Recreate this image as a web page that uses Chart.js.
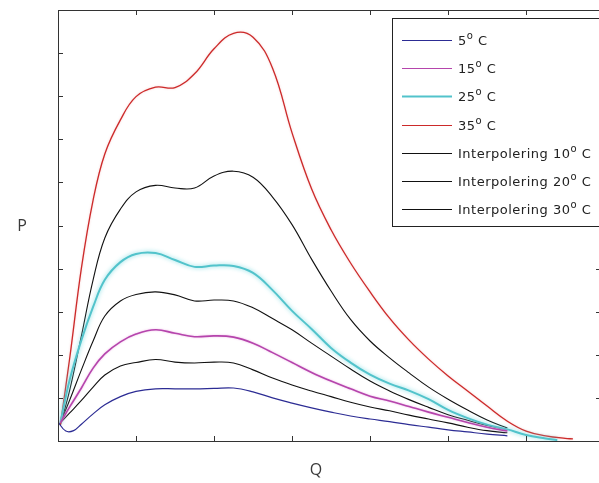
<!DOCTYPE html>
<html>
<head>
<meta charset="utf-8">
<script src="https://cdn.jsdelivr.net/npm/chart.js@4"></script>
<style>
  html, body { margin: 0; padding: 0; background: #fff; overflow: hidden; }
  canvas { display: block; }
</style>
</head>
<body>
<canvas id="pqChart" width="612" height="483"></canvas>
<script>
// Q positions (shared by most curves) and P readings per temperature
const qGrid = [0.03, 0.15, 0.3, 0.45, 0.6, 0.8, 1.0, 1.25, 1.5, 1.75, 2.0, 2.25, 2.5, 2.75, 3.0, 3.25, 3.5, 3.75, 4.0, 4.25, 4.5, 4.75, 5.0, 5.25, 5.5, 5.76];

const q5 = [0.0, 0.1, 0.2, 0.3, 0.45, 0.6, 0.8, 1.0, 1.25, 1.5, 1.75, 2.0, 2.25, 2.5, 2.75, 3.0, 3.25, 3.5, 3.75, 4.0, 4.25, 4.5, 4.75, 5.0, 5.25, 5.5, 5.76];
const p5 = [0.44, 0.23, 0.24, 0.39, 0.63, 0.84, 1.03, 1.15, 1.21, 1.21, 1.21, 1.22, 1.23, 1.14, 1.00, 0.88, 0.77, 0.67, 0.58, 0.51, 0.45, 0.38, 0.32, 0.26, 0.21, 0.16, 0.12];

const p15 = [0.42, 0.79, 1.23, 1.69, 2.02, 2.30, 2.48, 2.58, 2.50, 2.42, 2.44, 2.41, 2.27, 2.05, 1.82, 1.59, 1.39, 1.21, 1.04, 0.93, 0.80, 0.67, 0.55, 0.43, 0.32, 0.23];

const q25 = [0.03, 0.15, 0.3, 0.45, 0.6, 0.8, 1.0, 1.25, 1.5, 1.75, 2.0, 2.25, 2.5, 2.75, 3.0, 3.25, 3.5, 3.75, 4.0, 4.25, 4.5, 4.75, 5.0, 5.25, 5.5, 5.76, 6.0, 6.25, 6.4];
const p25 = [0.42, 1.42, 2.34, 3.11, 3.74, 4.15, 4.34, 4.36, 4.20, 4.04, 4.07, 4.06, 3.90, 3.50, 3.02, 2.60, 2.16, 1.82, 1.54, 1.33, 1.17, 0.97, 0.72, 0.53, 0.38, 0.27, 0.14, 0.06, 0.02];

const q35 = [0.03, 0.15, 0.3, 0.45, 0.6, 0.8, 1.0, 1.25, 1.5, 1.75, 2.0, 2.25, 2.5, 2.75, 3.0, 3.25, 3.5, 3.75, 4.0, 4.25, 4.5, 4.75, 5.0, 5.25, 5.5, 5.76, 6.0, 6.25, 6.5, 6.6];
const p35 = [0.37, 1.92, 4.01, 5.59, 6.66, 7.45, 7.99, 8.21, 8.20, 8.52, 9.10, 9.46, 9.37, 8.65, 7.15, 5.85, 4.90, 4.13, 3.46, 2.85, 2.34, 1.90, 1.51, 1.16, 0.81, 0.46, 0.23, 0.12, 0.06, 0.05];

const p10 = [0.42, 0.65, 0.94, 1.25, 1.53, 1.74, 1.82, 1.89, 1.83, 1.81, 1.83, 1.81, 1.65, 1.46, 1.30, 1.16, 1.03, 0.90, 0.79, 0.70, 0.60, 0.51, 0.42, 0.32, 0.24, 0.19];

const p20 = [0.42, 0.95, 1.65, 2.32, 2.90, 3.25, 3.40, 3.46, 3.39, 3.25, 3.27, 3.25, 3.09, 2.84, 2.58, 2.27, 1.97, 1.67, 1.39, 1.16, 0.96, 0.78, 0.61, 0.48, 0.36, 0.26];

const p30 = [0.37, 1.18, 2.44, 3.74, 4.71, 5.38, 5.78, 5.93, 5.87, 5.87, 6.15, 6.26, 6.12, 5.66, 5.02, 4.22, 3.48, 2.82, 2.32, 1.93, 1.58, 1.25, 0.97, 0.72, 0.49, 0.30];

const legendLabels = ['5', '15', '25', '35', 'Interpolering 10', 'Interpolering 20', 'Interpolering 30'];
const xTicks = [1, 2, 3, 4, 5, 6];
const yTicks = [1, 2, 3, 4, 5, 6, 7, 8, 9];
const xTitle = 'Q';
const yTitle = 'P';

function pts(qs, ps) {
  return qs.map((q, i) => ({ x: q, y: ps[i] }));
}

const series = [
  { label: legendLabels[0], data: pts(q5, p5), color: '#2c2c94', width: 1.2 },
  { label: legendLabels[1], data: pts(qGrid, p15), color: '#b545ac', width: 1.6 },
  { label: legendLabels[2], data: pts(q25, p25), color: '#52c3cb', width: 2 },
  { label: legendLabels[3], data: pts(q35, p35), color: '#cc2a2a', width: 1.3 },
  { label: legendLabels[4], data: pts(qGrid, p10), color: '#111', width: 1.1 },
  { label: legendLabels[5], data: pts(qGrid, p20), color: '#111', width: 1.1 },
  { label: legendLabels[6], data: pts(qGrid, p30), color: '#111', width: 1.1 }
];

// soft halo round the coloured curves, like the original render
const halos = { 1: 'rgba(230,150,220,0.7)', 2: 'rgba(110,215,222,0.9)', 3: 'rgba(240,150,150,0.5)' };
const glow = {
  id: 'glow',
  beforeDatasetDraw(chart, args) {
    if (!halos[args.index]) return;
    chart.ctx.save();
    chart.ctx.shadowColor = halos[args.index];
    chart.ctx.shadowBlur = args.index === 2 ? 4 : 2;
  },
  afterDatasetDraw(chart, args) {
    if (halos[args.index]) chart.ctx.restore();
  }
};

const frame = {
  id: 'frame',
  afterDraw(chart) {
    const ctx = chart.ctx;
    const a = chart.chartArea;
    const xs = chart.scales.x, ys = chart.scales.y;
    ctx.save();
    ctx.strokeStyle = '#333';
    ctx.lineWidth = 1;
    ctx.strokeRect(Math.round(a.left) + 0.5, Math.round(a.top) + 0.5, Math.round(a.right - a.left), Math.round(a.bottom - a.top));
    ctx.beginPath();
    xTicks.forEach(v => {
      const x = Math.round(xs.getPixelForValue(v)) + 0.5;
      ctx.moveTo(x, a.bottom); ctx.lineTo(x, a.bottom - 5);
      ctx.moveTo(x, a.top); ctx.lineTo(x, a.top + 5);
    });
    yTicks.forEach(v => {
      const y = Math.round(ys.getPixelForValue(v)) + 0.5;
      ctx.moveTo(a.left, y); ctx.lineTo(a.left + 5, y);
      ctx.moveTo(a.right, y); ctx.lineTo(a.right - 5, y);
    });
    ctx.stroke();

    // axis titles
    ctx.fillStyle = '#3a3a3a';
    ctx.font = '16px "Open Sans", sans-serif';
    ctx.textAlign = 'center';
    ctx.textBaseline = 'middle';
    ctx.fillText(yTitle, 22, 226);
    ctx.fillText(xTitle, 316, 470);

    // legend
    ctx.fillStyle = '#fff';
    ctx.fillRect(392, 18, 208, 208);
    ctx.strokeStyle = '#222';
    ctx.strokeRect(392.5, 18.5, 208, 208);
    ctx.letterSpacing = '0.5px';
    chart.data.datasets.forEach((ds, i) => {
      const y = Math.round(40 + i * 28.2) + 0.5;
      ctx.strokeStyle = ds.borderColor;
      ctx.lineWidth = i === 2 ? 2 : 1.2;
      ctx.beginPath();
      ctx.moveTo(402, y); ctx.lineTo(452, y);
      ctx.stroke();
      ctx.fillStyle = '#222';
      ctx.textAlign = 'left';
      ctx.textBaseline = 'middle';
      ctx.font = '13px "DejaVu Sans", sans-serif';
      let x = 458;
      ctx.fillText(ds.label, x, y + 1);
      x += ctx.measureText(ds.label).width;
      ctx.font = '10px "DejaVu Sans", sans-serif';
      ctx.fillText('o', x, y - 4);
      x += ctx.measureText('o').width;
      ctx.font = '13px "DejaVu Sans", sans-serif';
      ctx.fillText(' C', x, y + 1);
    });
    ctx.restore();
  }
};

new Chart(document.getElementById('pqChart'), {
  type: 'line',
  data: {
    datasets: series.map(s => ({
      label: s.label,
      data: s.data,
      borderColor: s.color,
      borderWidth: s.width,
      pointRadius: 0,
      fill: false,
      tension: 0.4
    }))
  },
  options: {
    responsive: false,
    animation: false,
    layout: { autoPadding: false, padding: { left: 58, top: 10, right: 11, bottom: 42 } },
    scales: {
      x: { type: 'linear', min: 0, max: 6.96, display: false },
      y: { type: 'linear', min: 0, max: 10, display: false }
    },
    plugins: { legend: { display: false }, tooltip: { enabled: false } }
  },
  plugins: [glow, frame]
});
</script>
</body>
</html>
